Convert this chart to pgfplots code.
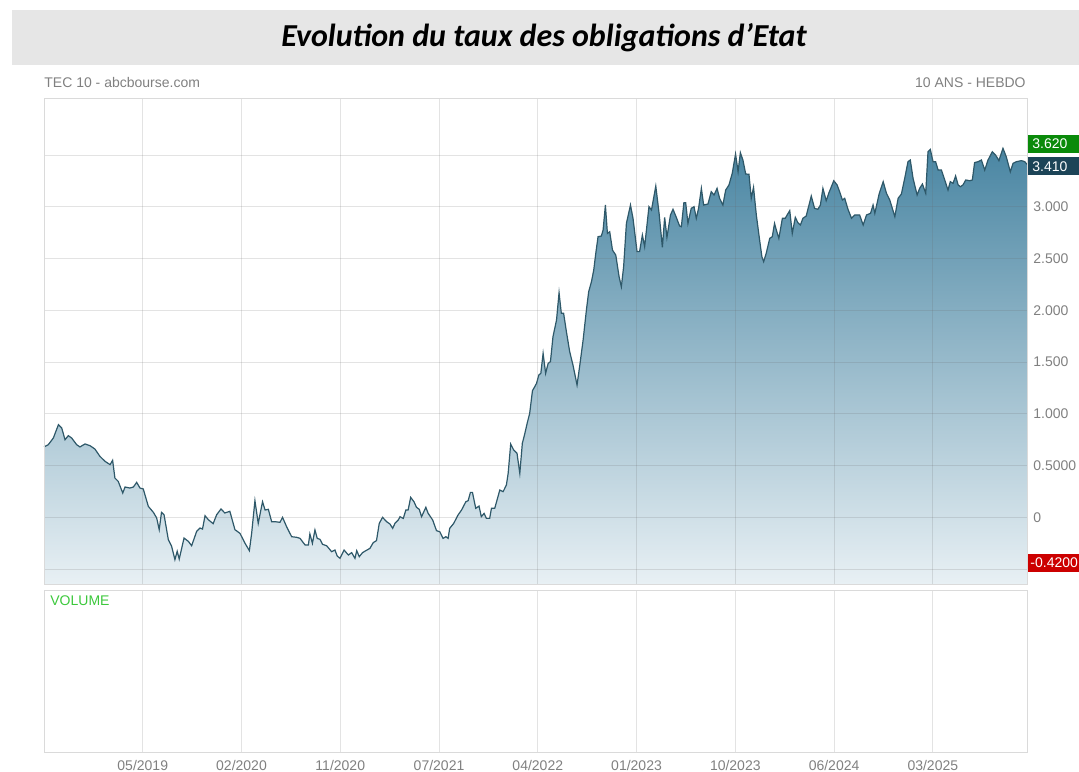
\documentclass[border=0pt]{standalone}
\usepackage{pgfplots}
\pgfplotsset{compat=1.18}
\usepackage{pgfplotstable}
\usepackage{fontspec}
\setmainfont{Liberation Sans}
\newfontfamily\titlefont{Carlito}
\definecolor{fillTop}{HTML}{4A86A3}
\definecolor{fillBot}{HTML}{E8F0F4}
\definecolor{lineC}{HTML}{2E5869}
\definecolor{txtgray}{HTML}{808080}
\definecolor{gridc}{HTML}{E3E3E3}
\definecolor{framec}{HTML}{DADADA}
\definecolor{boxgreen}{HTML}{0A8A0A}
\definecolor{boxnavy}{HTML}{1C4457}
\definecolor{boxred}{HTML}{CC0000}
\definecolor{volgreen}{HTML}{3CC83C}
\definecolor{titlebg}{HTML}{E6E6E6}

% w = weeks since start of window, v = yield (%)
\pgfplotstableread{
w v
0 0.680
1.7 0.702
3.7 0.767
5.7 0.895
7.0 0.863
8.3 0.750
9.6 0.789
10.9 0.767
12.9 0.702
14.2 0.680
16.2 0.709
18.2 0.692
20.1 0.660
22.1 0.589
24.1 0.541
26.1 0.509
27.1 0.551
28.0 0.380
29.3 0.348
31.1 0.235
32.0 0.293
33.9 0.283
35.3 0.293
36.6 0.338
37.9 0.283
39.2 0.274
41.2 0.106
43.2 0.048
44.5 -0.006
45.5 -0.119
46.4 0.048
47.4 0.026
49.1 -0.216
50.4 -0.280
51.7 -0.409
52.6 -0.328
53.4 -0.403
55.3 -0.200
57.0 -0.232
58.3 -0.274
60.3 -0.135
61.6 -0.103
62.6 -0.113
63.6 0.016
64.9 -0.023
66.8 -0.061
68.2 0.026
69.9 0.081
71.4 0.042
73.4 0.058
75.4 -0.119
77.4 -0.155
79.4 -0.251
81.1 -0.322
82.0 -0.155
83.3 0.161
84.6 -0.058
86.3 0.151
87.3 0.071
88.6 0.077
89.9 -0.042
91.2 -0.042
93.2 -0.048
94.2 0.000
95.8 -0.090
97.8 -0.187
99.8 -0.193
101.1 -0.203
103.1 -0.267
104.4 -0.267
105.0 -0.161
106.0 -0.251
107.0 -0.122
107.9 -0.203
109.0 -0.213
110.0 -0.261
111.6 -0.274
113.6 -0.332
114.9 -0.316
115.8 -0.374
116.9 -0.396
118.5 -0.316
120.2 -0.364
121.5 -0.341
122.8 -0.396
123.5 -0.322
124.5 -0.380
125.8 -0.341
127.1 -0.322
128.7 -0.300
130.0 -0.245
131.3 -0.225
132.4 -0.058
133.7 0.000
135.3 -0.042
136.6 -0.064
137.7 -0.106
138.6 -0.058
139.9 -0.026
140.6 0.006
141.9 -0.010
142.9 0.071
143.8 0.071
144.8 0.193
146.1 0.151
147.1 0.097
148.2 0.077
149.1 0.006
150.8 0.097
151.7 0.039
153.5 -0.026
155.0 -0.129
156.3 -0.139
157.6 -0.203
158.7 -0.187
159.6 -0.203
160.2 -0.107
161.8 -0.058
163.5 0.022
164.9 0.071
166.6 0.151
167.5 0.161
168.4 0.241
169.2 0.241
170.5 0.087
171.8 0.109
172.7 0.006
173.8 0.038
174.7 -0.010
176.0 -0.010
176.7 0.087
178.0 0.087
180.0 0.264
181.3 0.248
182.6 0.312
183.3 0.425
184.3 0.708
185.5 0.650
186.8 0.618
187.9 0.425
188.9 0.715
189.9 0.811
190.8 0.908
191.8 1.005
192.9 1.224
193.8 1.262
194.5 1.294
195.4 1.375
196.2 1.391
197.1 1.584
198.1 1.391
199.1 1.488
200.0 1.504
201.0 1.745
202.4 1.906
203.4 2.170
204.3 1.971
205.2 1.971
206.3 1.794
207.6 1.600
208.9 1.471
210.5 1.278
211.6 1.471
212.9 1.713
214.2 2.003
215.1 2.180
216.2 2.277
217.1 2.390
217.9 2.550
218.8 2.711
220.1 2.718
220.8 2.776
221.7 3.017
222.5 2.743
223.4 2.759
224.5 2.582
225.8 2.534
227.1 2.325
228.0 2.228
228.9 2.421
230.0 2.840
231.6 3.017
232.6 2.889
234.2 2.567
235.2 2.567
236.3 2.728
237.2 2.615
238.9 3.001
239.9 2.969
241.6 3.200
242.9 2.937
244.2 2.608
245.1 2.898
246.0 2.705
247.4 2.921
248.4 2.976
249.7 2.898
251.0 2.815
251.7 2.808
252.7 3.040
253.4 3.040
254.3 2.840
255.6 2.985
256.7 3.001
257.6 2.889
258.5 2.985
259.6 3.178
260.5 3.017
262.2 3.027
263.5 3.146
264.6 3.114
265.8 3.178
266.8 3.082
268.1 3.017
269.2 3.162
270.5 3.211
271.8 3.324
273.1 3.510
274.1 3.339
275.0 3.523
276.0 3.452
277.1 3.317
278.4 3.314
279.3 3.082
280.2 3.188
281.3 2.921
282.6 2.679
283.5 2.518
284.2 2.470
285.2 2.550
286.6 2.695
287.6 2.711
288.5 2.840
289.2 2.776
290.2 2.695
291.6 2.889
292.7 2.889
294.5 2.963
295.5 2.743
296.7 2.898
297.7 2.847
298.7 2.824
299.7 2.889
301.0 2.911
303.0 3.104
304.3 2.985
305.6 2.976
306.6 3.017
307.6 3.178
308.9 3.059
310.0 3.137
311.9 3.252
313.2 3.211
314.2 3.146
315.3 3.066
316.2 3.082
317.5 2.976
318.9 2.889
320.2 2.921
322.1 2.921
323.5 2.824
324.8 2.921
326.4 2.937
327.4 3.017
328.1 2.937
329.8 3.124
331.4 3.243
332.7 3.130
334.0 3.066
336.0 2.905
337.3 3.082
338.6 3.124
339.9 3.275
341.2 3.436
342.1 3.452
343.2 3.275
344.8 3.114
345.8 3.178
346.9 3.220
348.2 3.130
349.1 3.532
350.0 3.555
351.1 3.436
352.1 3.436
353.1 3.355
354.4 3.355
355.7 3.259
357.0 3.162
357.9 3.243
359.0 3.227
360.0 3.298
361.0 3.211
361.9 3.194
362.9 3.211
364.0 3.259
365.6 3.252
366.6 3.259
367.5 3.427
368.9 3.436
370.2 3.452
371.5 3.355
372.8 3.452
374.5 3.532
375.8 3.500
377.1 3.446
378.7 3.565
380.0 3.484
381.6 3.339
382.7 3.420
384.0 3.436
386.0 3.446
387.3 3.436
388.2 3.410
}\data

\begin{document}
\begin{tikzpicture}
\path[use as bounding box] (0,0) rectangle (539.5pt,385.5pt);
% title bar
\fill[titlebg] (6pt,353pt) rectangle (539.5pt,380.5pt);
\node[font=\titlefont\bfseries\itshape\fontsize{16}{19}\selectfont, anchor=center, inner sep=0pt] at (272pt,366.5pt) {Evolution du taux des obligations d’Etat};
\node[font=\fontsize{7}{8}\selectfont, text=txtgray, anchor=west, inner sep=0pt] at (22pt,344pt) {TEC 10 - abcbourse.com};
\node[font=\fontsize{7}{8}\selectfont, text=txtgray, anchor=east, inner sep=0pt] at (513pt,344pt) {10 ANS - HEBDO};

% main price panel
\begin{axis}[
  at={(22pt,93.5pt)}, anchor=south west, scale only axis,
  width=491.5pt, height=243pt,
  xmin=0, xmax=388.2, ymin=-0.644, ymax=4.051,
  xtick={39,78,...,351}, xticklabels={},
  ytick={-0.5,0,0.5,1,1.5,2,2.5,3,3.5},
  yticklabels={,0,0.5000,1.000,1.500,2.000,2.500,3.000,},
  yticklabel pos=right,
  yticklabel style={font=\fontsize{7}{8}\selectfont, text=txtgray, anchor=west, inner sep=0pt, xshift=3pt},
  major tick length=0pt,
  xmajorgrids, ymajorgrids,
  grid style={draw=black!60, draw opacity=0.18, line width=0.5pt},
  axis line style={draw=framec, line width=0.5pt},
  axis on top, clip=false,
]
\addplot[draw=none, top color=fillTop, bottom color=fillBot] table[x=w,y=v] {\data} -- (axis cs:388.2,-0.644) -- (axis cs:0,-0.644) -- cycle;
\addplot[lineC, line width=0.6pt] table[x=w,y=v] {\data};
\node[fill=boxgreen, text=white, anchor=west, inner xsep=2.5pt, inner ysep=0pt, minimum height=9pt, font=\fontsize{7}{8}\selectfont] at (axis cs:388.2,3.61) {\makebox[24pt][l]{3.620}};
\node[fill=boxnavy, text=white, anchor=west, inner xsep=2.5pt, inner ysep=0pt, minimum height=9pt, font=\fontsize{7}{8}\selectfont] at (axis cs:388.2,3.39) {\makebox[24pt][l]{3.410}};
\node[fill=boxred, text=white, anchor=west, inner xsep=1.5pt, inner ysep=0pt, minimum height=9pt, font=\fontsize{7}{8}\selectfont] at (axis cs:388.2,-0.44) {\makebox[26pt][l]{-0.4200}};
\end{axis}

% volume panel
\begin{axis}[
  at={(22pt,9.5pt)}, anchor=south west, scale only axis,
  width=491.5pt, height=81pt,
  xmin=0, xmax=388.2, ymin=0, ymax=1,
  xtick={39,78,...,351},
  xticklabels={05/2019,02/2020,11/2020,07/2021,04/2022,01/2023,10/2023,06/2024,03/2025},
  xticklabel style={font=\fontsize{7}{8}\selectfont, text=txtgray, inner sep=0pt, yshift=-4pt},
  ytick=\empty,
  major tick length=0pt,
  xmajorgrids,
  grid style={draw=gridc, line width=0.5pt},
  axis line style={draw=framec, line width=0.5pt},
  clip=false,
]
\node[anchor=north west, text=volgreen, font=\fontsize{7}{8}\selectfont, inner sep=0pt] at (rel axis cs:0,1) [xshift=3pt, yshift=-2.5pt] {VOLUME};
\end{axis}
\end{tikzpicture}
\end{document}
